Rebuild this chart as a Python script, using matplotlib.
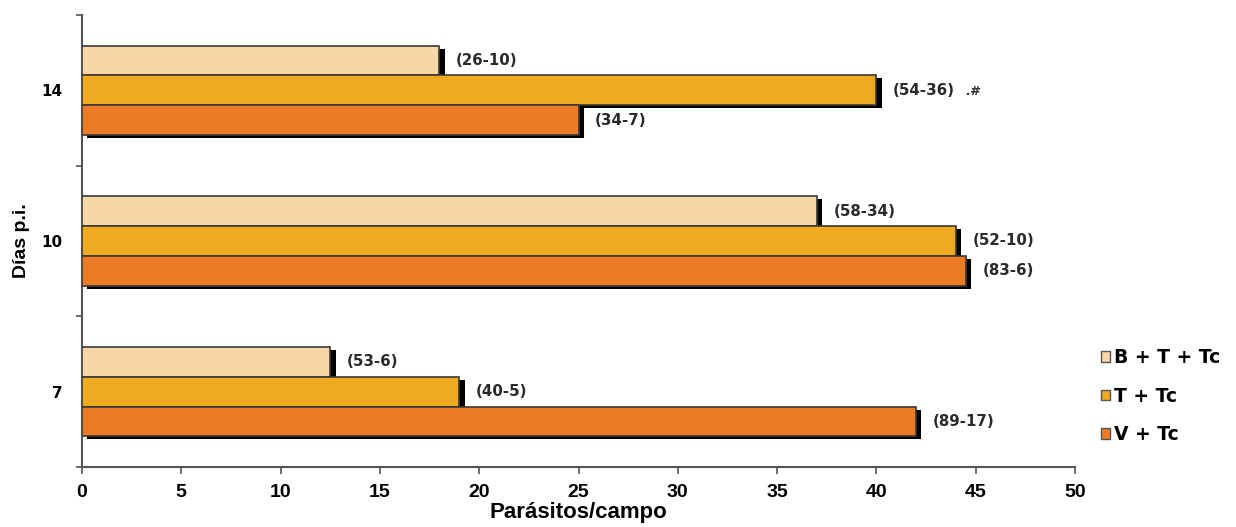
import matplotlib
matplotlib.use("Agg")
import matplotlib.pyplot as plt
import matplotlib.patheffects as pe
from matplotlib.patches import Patch
import numpy as np

days = ["7", "10", "14"]
series_names = ["B + T + Tc", "T + Tc", "V + Tc"]
b_t_tc = [12.5, 37.0, 18.0]
t_tc = [19.0, 44.0, 40.0]
v_tc = [42.0, 44.5, 25.0]
b_labels = ["(53-6)", "(58-34)", "(26-10)"]
t_labels = ["(40-5)", "(52-10)", "(54-36)"]
v_labels = ["(89-17)", "(83-6)", "(34-7)"]
xticks = [0, 5, 10, 15, 20, 25, 30, 35, 40, 45, 50]

colors = ["#F8D6A8", "#EFAA1F", "#EB7B24"]
edge = "#3a3a3a"
wide = ["DejaVu Sans"]
narrow = ["Liberation Sans", "DejaVu Sans"]

fig = plt.figure(figsize=(12.36, 5.27), dpi=100)
ax = fig.add_axes([0.0663, 0.1139, 0.8035, 0.8576])

y = np.arange(len(days))
h = 0.198
offsets = [h, 0.0, -h]
all_vals = [b_t_tc, t_tc, v_tc]
all_labels = [b_labels, t_labels, v_labels]
shadow = [pe.SimplePatchShadow(offset=(3.8, -2.2), shadow_rgbFace="black", alpha=1.0), pe.Normal()]

for vals, labs, off, col in zip(all_vals, all_labels, offsets, colors):
    bars = ax.barh(y + off, vals, height=h, color=col, edgecolor=edge, linewidth=1.2, zorder=3)
    for b in bars:
        b.set_path_effects(shadow)
    for yi, v, lab in zip(y, vals, labs):
        ax.annotate(lab, xy=(v, yi + off), xytext=(12, 0), textcoords="offset points",
                    ha="left", va="center", fontsize=10.8, fontweight="bold",
                    family=wide, color="#2a2a2a")

# extra mark on 14 / T + Tc
ax.annotate(".#", xy=(t_tc[2], y[2]), xytext=(64, -1), textcoords="offset points",
            ha="left", va="center", fontsize=9.5, fontstyle="italic", fontweight="bold",
            family=wide, color="#333333")

ax.set_xlim(0, 50)
ax.set_ylim(-0.5, 2.5)
ax.set_xticks(xticks)
ax.set_xticklabels([str(t) for t in xticks], fontsize=14, fontweight="bold", family=narrow)
ax.set_yticks([-0.5, 0.5, 1.5, 2.5])
ax.set_yticklabels([])
ax.set_yticks(y, minor=True)
ax.set_yticklabels(days, minor=True, fontsize=11, fontweight="bold", family=wide)
ax.tick_params(axis="y", which="minor", length=0, pad=14)
ax.tick_params(axis="y", which="major", length=4, width=1.2, color="#555555", direction="out")
ax.tick_params(axis="x", length=5, width=1.2, color="#555555", direction="out", pad=7)

for s in ["top", "right"]:
    ax.spines[s].set_visible(False)
for s in ["left", "bottom"]:
    ax.spines[s].set_color("#555555")
    ax.spines[s].set_linewidth(1.5)

ax.set_xlabel("Parásitos/campo", fontsize=16, fontweight="bold", family=narrow, labelpad=1)
ax.set_ylabel("Días p.i.", fontsize=14, fontweight="bold", family=narrow, labelpad=8)

handles = [Patch(facecolor=c, edgecolor="#555555", linewidth=1.0) for c in colors]
leg = fig.legend(handles, series_names, loc="upper left", bbox_to_anchor=(0.877, 0.372),
                 frameon=False, handlelength=0.5, handleheight=0.5, handletextpad=0.2,
                 labelspacing=1.05, prop={"family": wide, "weight": "bold", "size": 13.5})

fig.savefig("out.png", dpi=100)
